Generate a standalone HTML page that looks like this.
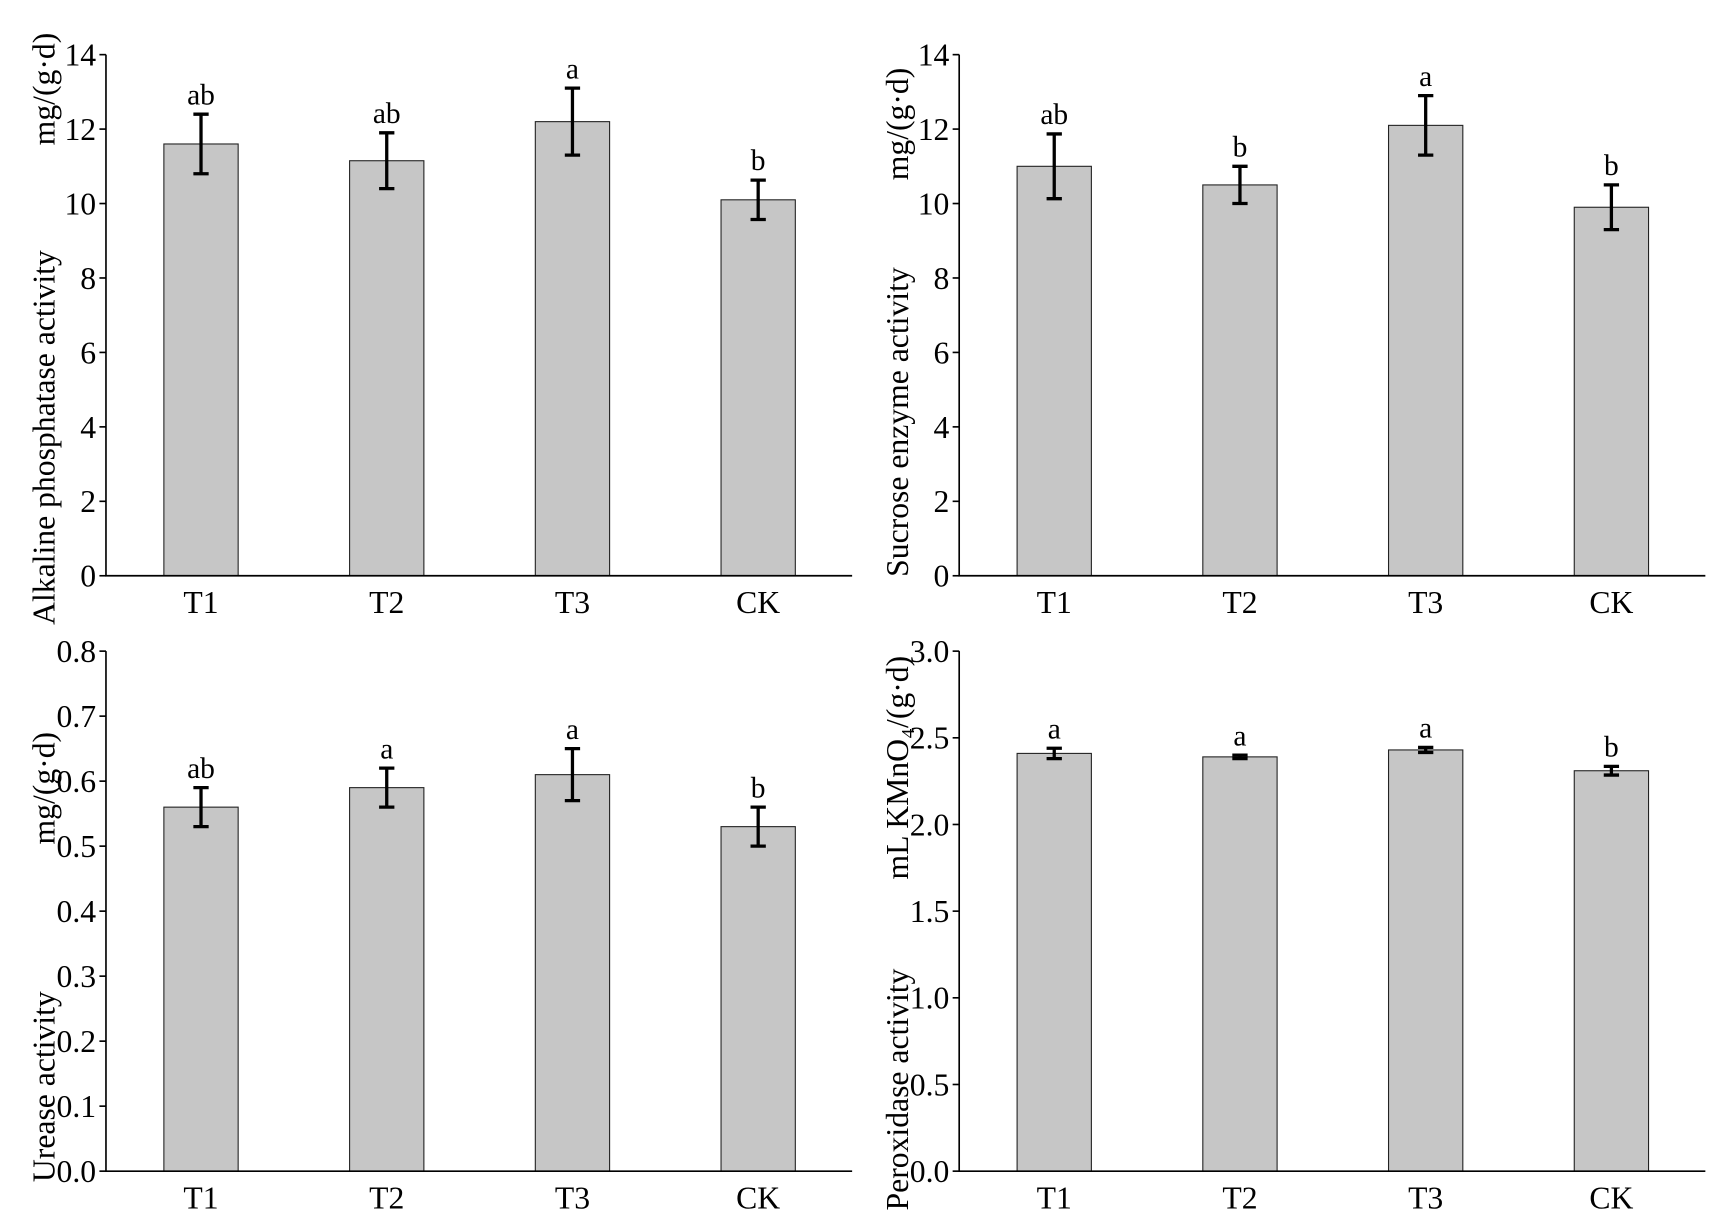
<!DOCTYPE html>
<html><head><meta charset="utf-8"><style>
html,body{margin:0;padding:0;background:#fff;}
svg{display:block;}
text{font-family:"Liberation Serif",serif;fill:#000;}
</style></head><body>
<svg id="fig" width="1713" height="1214" viewBox="0 0 1568 1111.2" xmlns="http://www.w3.org/2000/svg"></svg>
<script>
const categories = ["T1","T2","T3","CK"];
const alpValues = [11.6, 11.15, 12.2, 10.1];
const alpErrors = [0.8, 0.75, 0.9, 0.53];
const alpLetters = ["ab","ab","a","b"];
const alpTicks = ["0","2","4","6","8","10","12","14"];
const sucValues = [11.0, 10.5, 12.1, 9.9];
const sucErrors = [0.87, 0.5, 0.8, 0.6];
const sucLetters = ["ab","b","a","b"];
const sucTicks = ["0","2","4","6","8","10","12","14"];
const ureValues = [0.56, 0.59, 0.61, 0.53];
const ureErrors = [0.03, 0.03, 0.04, 0.03];
const ureLetters = ["ab","a","a","b"];
const ureTicks = ["0.0","0.1","0.2","0.3","0.4","0.5","0.6","0.7","0.8"];
const podValues = [2.41, 2.39, 2.43, 2.31];
const podErrors = [0.03, 0.01, 0.015, 0.025];
const podLetters = ["a","a","a","b"];
const podTicks = ["0.0","0.5","1.0","1.5","2.0","2.5","3.0"];

const NS = "http://www.w3.org/2000/svg";
const svg = document.getElementById("fig");
function mk(tag, attrs, parent){
  const e = document.createElementNS(NS, tag);
  for (const k in attrs) e.setAttribute(k, attrs[k]);
  (parent||svg).appendChild(e);
  return e;
}

function panel(cfg){
  const g = mk("g", {});
  
  
  const ax = cfg.ax, top = cfg.top, bot = cfg.bot, right = ax + 683;
  const vmax = parseFloat(cfg.ticks[cfg.ticks.length-1]);
  const y = v => bot - (v / vmax) * (bot - top);
  const x = i => ax + 87 + i * 170;
  categories.forEach((c, i) => {
    const v = cfg.values[i], e = cfg.errors[i], cx = x(i);
    const r = mk("rect", {x: cx - 34, y: y(v), width: 68, height: bot - y(v), fill: "#c6c6c6", stroke: "#222", "stroke-width": 1}, g);
    
    
    const eb = mk("path", {d: `M${cx} ${y(v+e)}V${y(v-e)}M${cx-7} ${y(v+e)}H${cx+7}M${cx-7} ${y(v-e)}H${cx+7}`, stroke: "#000", "stroke-width": 3, fill: "none"}, g);
    
    
    const lt = mk("text", {x: cx, y: y(v+e) - 9, "text-anchor": "middle", "font-size": 27}, g);
    lt.textContent = cfg.letters[i];
    
    
    const cl = mk("text", {x: cx, y: bot + 34, "text-anchor": "middle", "font-size": 29}, g);
    cl.textContent = c;
    
    
  });
  const axes = mk("path", {d: `M${ax} ${top}V${bot}H${right}`, stroke: "#000", "stroke-width": 1.5, fill: "none"}, g);
  
  
  cfg.ticks.forEach(t => {
    const ty = y(parseFloat(t));
    mk("line", {x1: ax - 6, x2: ax, y1: ty, y2: ty, stroke: "#000", "stroke-width": 1.5}, g);
    const tl = mk("text", {x: ax - 9, y: ty + 10, "text-anchor": "end", "font-size": 29}, g);
    tl.textContent = t;
    
    
  });
  cfg.titles.forEach(tt => {
    const te = mk("text", {transform: `translate(${tt.x},${tt.y}) rotate(-90)`, "text-anchor": "start", "font-size": 29}, g);
    te.textContent = tt.t;
    
    
  });
}

panel({name: "alkaline-phosphatase-chart", ax: 97, top: 50, bot: 527, values: alpValues, errors: alpErrors, letters: alpLetters, ticks: alpTicks,
  titles: [{t: "Alkaline phosphatase  activity", x: 50, y: 572, name: "y-axis-title"}, {t: "mg/(g·d)", x: 50, y: 133, name: "y-axis-unit"}]});
panel({name: "sucrose-enzyme-chart", ax: 878, top: 50, bot: 527, values: sucValues, errors: sucErrors, letters: sucLetters, ticks: sucTicks,
  titles: [{t: "Sucrose enzyme activity", x: 831, y: 528, name: "y-axis-title"}, {t: "mg/(g·d)", x: 831, y: 165, name: "y-axis-unit"}]});
panel({name: "urease-chart", ax: 97, top: 596, bot: 1072, values: ureValues, errors: ureErrors, letters: ureLetters, ticks: ureTicks,
  titles: [{t: "Urease activity", x: 50, y: 1082, name: "y-axis-title"}, {t: "mg/(g·d)", x: 50, y: 773, name: "y-axis-unit"}]});
panel({name: "peroxidase-chart", ax: 878, top: 596, bot: 1072, values: podValues, errors: podErrors, letters: podLetters, ticks: podTicks,
  titles: [{t: "Peroxidase activity", x: 831, y: 1108, name: "y-axis-title"}, {t: "mL KMnO₄/(g·d)", x: 831, y: 805, name: "y-axis-unit"}]});
</script>
</body></html>
